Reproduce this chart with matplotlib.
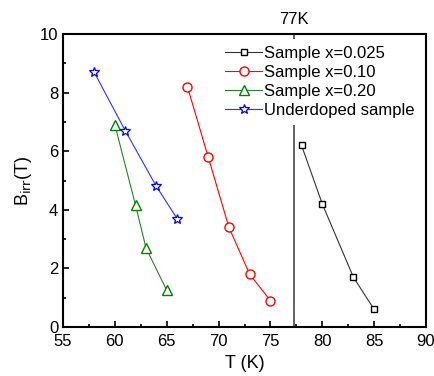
import matplotlib
matplotlib.use('Agg')
import matplotlib.pyplot as plt
from matplotlib.ticker import MultipleLocator

plt.rcParams['font.family'] = ['Liberation Sans', 'DejaVu Sans']

# data
t_025 = [78, 80, 83, 85]
b_025 = [6.2, 4.2, 1.7, 0.6]
t_010 = [67, 69, 71, 73, 75]
b_010 = [8.2, 5.8, 3.4, 1.8, 0.9]
t_020 = [60, 62, 63, 65]
b_020 = [6.9, 4.15, 2.7, 1.25]
t_ud = [58, 61, 64, 66]
b_ud = [8.7, 6.7, 4.8, 3.7]
t_77 = 77.25

fig = plt.figure(figsize=(4.35, 3.76), dpi=100)
ax = fig.add_axes([63 / 435, 1 - 327 / 376, 363 / 435, 293 / 376])

ax.axvline(t_77, color='#555555', lw=1.3, zorder=1)

ax.plot(t_025, b_025, '-s', color='#333333', lw=0.8, ms=5, mfc='white', mec='black', mew=1.0, label='Sample x=0.025', zorder=3)
ax.plot(t_010, b_010, '-o', color='red', lw=0.8, ms=6.5, mfc='white', mec='red', mew=1.0, label='Sample x=0.10', zorder=3)
ax.plot(t_020, b_020, '-^', color='#2e7d2e', lw=0.8, ms=6.5, mfc='white', mec='green', mew=1.0, label='Sample x=0.20', zorder=3)
ax.plot(t_ud, b_ud, '-*', color='#3030ff', lw=0.8, ms=7, mfc='white', mec='blue', mew=0.9, label='Underdoped sample', zorder=3)

ax.set_xlim(55, 90)
ax.set_ylim(0, 10)
ax.xaxis.set_major_locator(MultipleLocator(5))
ax.xaxis.set_minor_locator(MultipleLocator(2.5))
ax.yaxis.set_major_locator(MultipleLocator(2))
ax.yaxis.set_minor_locator(MultipleLocator(1))
ax.tick_params(which='both', direction='in', labelsize=12, width=1.2)
ax.tick_params(which='major', length=4)
ax.tick_params(which='minor', length=2.5)
ax.tick_params(axis='x', pad=5)
for s in ax.spines.values():
    s.set_linewidth(1.5)

ax.set_xlabel('T (K)', fontsize=13)
ax.set_ylabel(r'B$_{\rm irr}$(T)', fontsize=13)

ax.text(t_77, 10.25, '77K', ha='center', va='bottom', fontsize=12)

leg = ax.legend(loc='upper right', fontsize=12, frameon=True, fancybox=False,
                handlelength=2.2, handletextpad=0.1, borderpad=0.4,
                labelspacing=0.25, borderaxespad=0.3)
leg.get_frame().set_edgecolor('none')
leg.get_frame().set_facecolor('white')
leg.get_frame().set_alpha(1)

fig.savefig('out.png', dpi=100)
